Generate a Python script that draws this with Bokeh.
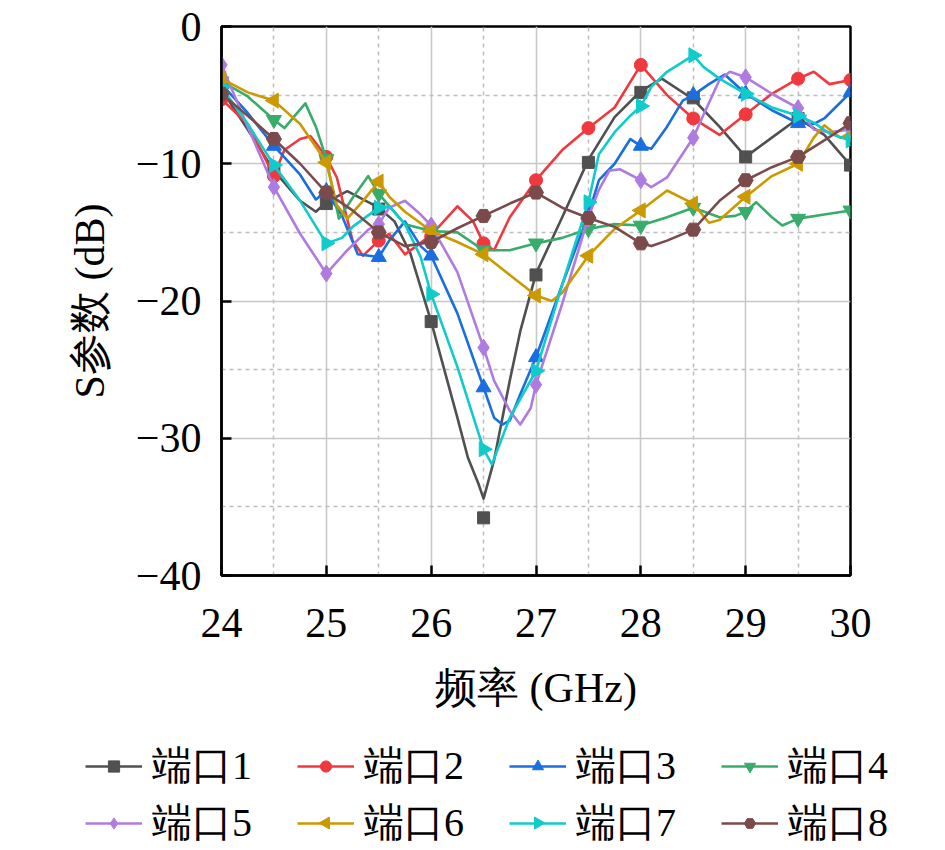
from math import pi
from bokeh.plotting import figure
from bokeh.layouts import column
from bokeh.models import Range1d, FixedTicker, Legend, LegendItem
from bokeh.embed import file_html
from bokeh.resources import INLINE

# ---------------- data ----------------
freq_marks = [24.0, 24.5, 25.0, 25.5, 26.0, 26.5, 27.0, 27.5, 28.0, 28.5, 29.0, 29.5, 30.0]

# port 1
p1_f = [24, 24.25, 24.5, 24.75, 24.9, 25, 25.2, 25.5, 25.65, 25.8, 26, 26.25, 26.35, 26.45, 26.5,
        26.6, 26.75, 26.85, 27, 27.25, 27.5, 27.75, 28, 28.2, 28.5, 28.75, 29, 29.25, 29.5, 29.75, 30]
p1_s = [-4.6, -7.5, -10.5, -12.7, -13.5, -12.8, -12.0, -13.2, -14.2, -16.5, -21.5, -28.5, -31.4, -33.3, -34.4,
        -31.6, -25.8, -22.2, -18.0, -13.9, -9.7, -6.6, -4.7, -3.8, -5.3, -7.3, -9.5, -8.1, -6.7, -7.9, -10.1]
p1_m = [-4.6, -10.5, -12.9, -13.3, -21.5, -35.8, -18.1, -9.9, -4.8, -5.2, -9.5, -6.7, -10.1]

# port 2
p2_f = [24, 24.25, 24.5, 24.6, 24.75, 24.85, 25, 25.1, 25.25, 25.35, 25.5, 25.6, 25.75, 26, 26.25, 26.4,
        26.5, 26.6, 26.75, 27, 27.25, 27.5, 27.75, 28, 28.25, 28.5, 28.75, 29, 29.25, 29.5, 29.65, 29.8, 30]
p2_s = [-5.3, -7.1, -10.9, -9.0, -8.2, -8.0, -9.5, -11.0, -15.6, -16.7, -15.6, -15.1, -16.6, -15.2, -13.1, -14.2,
        -15.8, -16.3, -13.9, -11.2, -9.0, -7.4, -5.9, -2.8, -5.0, -6.7, -7.9, -6.4, -4.9, -3.8, -3.3, -4.2, -3.9]
p2_m = [-5.3, -10.9, -9.5, -15.6, -15.3, -15.8, -11.2, -7.4, -2.8, -6.7, -6.4, -3.8, -3.9]

# port 3
p3_f = [24, 24.25, 24.5, 24.75, 24.9, 25, 25.15, 25.3, 25.5, 25.6, 25.75, 25.9, 26, 26.25, 26.5, 26.6, 26.68,
        26.75, 26.85, 27, 27.25, 27.5, 27.6, 27.75, 27.9, 28, 28.1, 28.25, 28.4, 28.5, 28.65, 28.8, 29, 29.25,
        29.5, 29.65, 29.75, 30]
p3_s = [-4.2, -6.3, -8.7, -10.8, -12.6, -12.0, -13.8, -16.6, -16.8, -15.6, -14.2, -16.0, -16.7, -20.9, -26.3, -28.5,
        -29.0, -28.7, -26.8, -24.1, -18.8, -13.7, -11.2, -10.0, -8.2, -8.7, -8.9, -7.3, -5.4, -5.0, -4.2, -3.5, -4.9,
        -6.1, -7.05, -7.1, -6.7, -4.8]
p3_m = [-4.2, -8.7, -12.0, -16.8, -16.7, -26.3, -24.1, -13.7, -8.7, -5.0, -4.9, -7.05, -4.8]

# port 4
p4_f = [24, 24.25, 24.5, 24.6, 24.7, 24.8, 24.9, 25, 25.12, 25.25, 25.4, 25.5, 25.75, 26, 26.25, 26.5, 26.75,
        27, 27.25, 27.5, 27.75, 28, 28.25, 28.5, 28.75, 28.9, 29, 29.1, 29.25, 29.35, 29.5, 29.75, 30]
p4_s = [-4.0, -5.1, -6.8, -7.4, -6.5, -5.6, -7.3, -9.65, -14.0, -12.5, -10.9, -12.2, -14.4, -14.9, -15.0, -16.3,
        -16.3, -15.8, -15.4, -14.75, -14.4, -14.5, -13.9, -13.2, -13.9, -13.8, -13.5, -12.8, -13.9, -14.5, -14.0,
        -13.7, -13.4]
p4_m = [-4.0, -6.8, -9.65, -12.2, -14.9, -16.3, -15.8, -14.75, -14.5, -13.2, -13.5, -14.0, -13.4]

# port 5
p5_f = [24, 24.25, 24.5, 24.75, 25, 25.2, 25.4, 25.5, 25.6, 25.75, 25.9, 26, 26.25, 26.5, 26.6, 26.75, 26.85,
        26.95, 27, 27.25, 27.5, 27.6, 27.7, 27.8, 28, 28.1, 28.25, 28.5, 28.6, 28.75, 28.85, 29, 29.25, 29.5,
        29.65, 29.8, 30]
p5_s = [-2.8, -7.3, -11.7, -15.1, -18.0, -16.3, -14.8, -14.4, -13.2, -12.7, -13.7, -14.5, -17.9, -23.4, -25.8,
        -28.0, -29.0, -27.8, -26.1, -20.2, -13.9, -11.9, -10.5, -10.4, -11.2, -11.7, -11.0, -8.1, -6.4, -3.9, -3.3,
        -3.7, -4.9, -5.95, -7.5, -7.7, -7.5]
p5_m = [-2.8, -11.7, -18.0, -14.4, -14.5, -23.4, -26.1, -14.0, -11.2, -8.1, -3.7, -5.95, -7.5]

# port 6
p6_f = [24, 24.25, 24.5, 24.75, 25, 25.1, 25.2, 25.35, 25.5, 25.6, 25.75, 26, 26.25, 26.5, 26.75, 27, 27.15,
        27.25, 27.5, 27.75, 28, 28.25, 28.5, 28.65, 28.75, 29, 29.25, 29.5, 29.65, 29.75, 29.9, 30]
p6_s = [-3.8, -4.8, -5.4, -7.1, -9.9, -13.0, -14.0, -12.7, -11.3, -12.4, -13.5, -14.9, -15.7, -16.6, -18.1,
        -19.6, -20.0, -19.4, -16.7, -14.75, -13.4, -11.95, -12.9, -14.3, -14.1, -12.4, -10.9, -10.0, -8.1, -7.2,
        -8.1, -8.0]
p6_m = [-3.8, -5.4, -9.9, -11.3, -14.9, -16.6, -19.6, -16.7, -13.4, -12.9, -12.4, -10.0, -8.0]

# port 7
p7_f = [24, 24.25, 24.5, 24.75, 25, 25.15, 25.25, 25.5, 25.6, 25.75, 25.9, 26, 26.25, 26.5, 26.58, 26.75, 27,
        27.25, 27.5, 27.6, 27.75, 27.9, 28, 28.1, 28.25, 28.5, 28.6, 28.75, 29, 29.25, 29.5, 29.65, 29.8, 30]
p7_s = [-4.4, -7.1, -10.1, -12.7, -15.8, -15.4, -14.6, -13.2, -13.1, -14.4, -16.8, -19.5, -24.8, -30.8, -31.9,
        -28.5, -25.1, -18.8, -12.8, -9.3, -7.7, -6.5, -5.8, -4.4, -3.3, -2.1, -2.96, -3.8, -4.9, -5.9, -6.5, -7.0,
        -7.8, -8.3]
p7_m = [-4.4, -10.1, -15.8, -13.2, -19.5, -30.8, -25.1, -12.8, -5.8, -2.1, -4.9, -6.5, -8.3]

# port 8
p8_f = [24, 24.25, 24.5, 24.75, 25, 25.25, 25.5, 25.75, 26, 26.25, 26.5, 26.75, 27, 27.25, 27.5, 27.75, 28,
        28.1, 28.25, 28.5, 28.75, 29, 29.25, 29.5, 29.75, 30]
p8_s = [-4.9, -6.5, -8.2, -10.0, -12.1, -13.4, -15.0, -16.0, -15.7, -14.7, -13.8, -12.9, -12.1, -13.2, -13.95,
        -14.6, -15.8, -16.0, -15.6, -14.8, -12.7, -11.2, -10.25, -9.5, -8.3, -7.05]
p8_m = [-4.9, -8.2, -12.1, -15.0, -15.7, -13.8, -12.1, -13.95, -15.8, -14.8, -11.2, -9.5, -7.05]

port_names = ["端口1", "端口2", "端口3", "端口4", "端口5", "端口6", "端口7", "端口8"]

x_ticks = [24, 25, 26, 27, 28, 29, 30]
x_tick_labels = ["24", "25", "26", "27", "28", "29", "30"]
x_minor = [24.5, 25.5, 26.5, 27.5, 28.5, 29.5]
y_ticks = [0, -10, -20, -30, -40]
y_tick_labels = ["0", "\u221210", "\u221220", "\u221230", "\u221240"]
y_minor = [-5, -15, -25, -35]

x_title = "频率 (GHz)"
y_title = "S参数 (dB)"

# ---------------- styles ----------------
colors = ["#505050", "#f0393f", "#1b6ee0", "#38ac6a", "#b07be0", "#cb9900", "#10cbcc", "#7b4b4b"]
markers = ["square", "circle", "triangle", "inverted_triangle", "diamond", "triangle", "triangle", "hex"]
angles = [0, 0, 0, 0, 0, pi / 2, -pi / 2, 0]
sizes = [12, 13, 15, 15, 17, 15, 15, 15]

FONT = "Liberation Serif"
W = 918

p = figure(width=W, height=730, output_backend="svg", toolbar_location=None,
           x_range=Range1d(24, 30), y_range=Range1d(-40, 0),
           min_border_left=221, min_border_right=68, min_border_top=26, min_border_bottom=155)
p.background_fill_color = "white"
p.border_fill_color = "white"
p.outline_line_color = "black"
p.outline_line_width = 2.5

# axes
p.xaxis.ticker = FixedTicker(ticks=x_ticks, minor_ticks=x_minor)
p.yaxis.ticker = FixedTicker(ticks=y_ticks, minor_ticks=y_minor)
p.xaxis.major_label_overrides = {t: l for t, l in zip(x_ticks, x_tick_labels)}
p.yaxis.major_label_overrides = {t: l for t, l in zip(y_ticks, y_tick_labels)}
for ax in (p.xaxis, p.yaxis):
    ax.axis_line_color = "black"
    ax.axis_line_width = 2.5
    ax.major_tick_in = 10
    ax.major_tick_out = 0
    ax.major_tick_line_width = 2.5
    ax.major_tick_line_color = "black"
    ax.minor_tick_line_color = None
    ax.major_label_text_font = FONT
    ax.major_label_text_font_size = "42px"
    ax.major_label_text_color = "black"
    ax.axis_label_text_font = FONT
    ax.axis_label_text_font_size = "42px"
    ax.axis_label_text_font_style = "normal"
    ax.axis_label_text_color = "black"
p.xaxis.axis_label = x_title
p.yaxis.axis_label = y_title
p.xaxis.major_label_standoff = 29
p.yaxis.major_label_standoff = 16
p.xaxis.axis_label_standoff = 25
p.yaxis.axis_label_standoff = 20

# grid
for g in (p.xgrid, p.ygrid):
    g.grid_line_color = "#c8c8c8"
    g.grid_line_width = 1.6
    g.minor_grid_line_color = "#bdbdbd"
    g.minor_grid_line_width = 1.5
    g.minor_grid_line_dash = "4 4"

series = [(p1_f, p1_s, p1_m), (p2_f, p2_s, p2_m), (p3_f, p3_s, p3_m), (p4_f, p4_s, p4_m),
          (p5_f, p5_s, p5_m), (p6_f, p6_s, p6_m), (p7_f, p7_s, p7_m), (p8_f, p8_s, p8_m)]

for i, (lf, ls, ms) in enumerate(series):
    p.line(lf, ls, line_color=colors[i], line_width=2.6, line_join="round")
    p.scatter(freq_marks, ms, marker=markers[i], size=sizes[i], angle=angles[i],
              fill_color=colors[i], line_color=colors[i], line_width=1)

# ---------------- legend panel (a second figure below, its frame spans the full width) ----------------
LEG_H = 120
LEG_X = 85            # left edge of the legend (px)
GLYPH_W = 57
STANDOFF = 10
LABEL_W = 143
SPACING = 2
ITEM_H = 55           # rendered item height for 40px labels
COL_PITCH = GLYPH_W + STANDOFF + LABEL_W + SPACING
Y0 = 1000             # the panel's y range sits above every series value, so only legend glyphs show

pl = figure(width=W, height=LEG_H, output_backend="svg", toolbar_location=None,
            x_axis_location=None, y_axis_location=None,
            x_range=Range1d(0, W), y_range=Range1d(Y0, Y0 + LEG_H),
            min_border_left=0, min_border_right=0, min_border_top=0, min_border_bottom=0)
pl.frame_align = False
pl.outline_line_color = None
pl.xgrid.visible = False
pl.ygrid.visible = False

items = []
for i, (lf, ls, ms) in enumerate(series):
    lr = pl.line(lf, ls, line_color=colors[i], line_width=2.6)
    sr = pl.scatter(freq_marks, ms, marker=markers[i], size=sizes[i], angle=angles[i],
                    fill_color=colors[i], line_color=colors[i], line_width=1)
    rends = [lr, sr] if angles[i] == 0 else [lr]
    items.append(LegendItem(label=port_names[i], renderers=rends))

legend = Legend(items=items, location=(LEG_X, 0), orientation="horizontal", ncols=4,
                glyph_width=GLYPH_W, glyph_height=28, label_standoff=STANDOFF, label_width=LABEL_W,
                label_height=44, spacing=SPACING, padding=0, margin=0,
                border_line_color=None, background_fill_alpha=0,
                label_text_font=FONT, label_text_font_size="40px", label_text_color="black")
pl.add_layout(legend)

# rotated triangles for the legend entries whose markers point left / right
rot_idx = [i for i in range(len(port_names)) if angles[i] != 0]
rot_x = [LEG_X + (i % 4) * COL_PITCH + GLYPH_W / 2 for i in rot_idx]
rot_y = [Y0 + (1 - i // 4) * (ITEM_H + SPACING) + ITEM_H / 2 for i in rot_idx]
pl.scatter(rot_x, rot_y, marker="triangle", size=12, angle=[angles[i] for i in rot_idx],
           fill_color=[colors[i] for i in rot_idx], line_color=[colors[i] for i in rot_idx],
           line_width=1, level="overlay")

layout = column(p, pl, spacing=0)
open("out.html", "w").write(file_html(layout, INLINE))
